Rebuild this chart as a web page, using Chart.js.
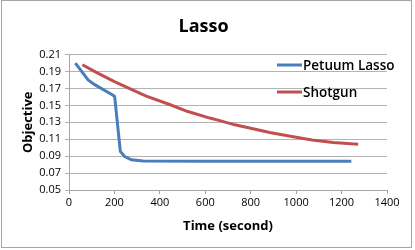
<!DOCTYPE html>
<html>
<head>
<meta charset="utf-8">
<script src="https://cdn.jsdelivr.net/npm/chart.js@4/dist/chart.umd.min.js"></script>
<style>
  html, body { margin: 0; padding: 0; background: #fff; }
  #wrap { width: 415px; height: 250px; position: relative; }
</style>
</head>
<body>
<div id="wrap"><canvas id="chart" width="415" height="250"></canvas></div>
<script>
// values
const petuumTime = [28, 84, 113, 194, 201, 226, 245, 275, 326, 600, 900, 1243]
const petuumObj  = [0.200, 0.180, 0.1745, 0.162, 0.1605, 0.0955, 0.0895, 0.0857, 0.0842, 0.0841, 0.0841, 0.0841]
const shotgunTime = [59, 120, 200, 340, 443, 520, 620, 664, 730, 800, 884, 987, 1070, 1163, 1273]
const shotgunObj  = [0.198, 0.189, 0.178, 0.161, 0.151, 0.143, 0.135, 0.132, 0.127, 0.123, 0.118, 0.113, 0.109, 0.106, 0.104]
const seriesNames = ['Petuum Lasso', 'Shotgun']
const seriesColors = ['#4A7EBB', '#C0504D']

const FONT = '"Open Sans", "Liberation Sans", sans-serif'
const toPts = (xs, ys) => xs.map((x, i) => ({ x, y: ys[i] }))

// outer frame + legend drawn inside the plot area
const frameLegend = {
  id: 'frameLegend',
  beforeDraw(chart) {
    const c = chart.ctx
    c.save()
    c.strokeStyle = '#a6a6a6'; c.lineWidth = 1
    c.strokeRect(1.5, 0.5, 410, 247)
    c.restore()
  },
  afterDraw(chart) {
    const c = chart.ctx
    const rows = [65, 92]
    c.save()
    c.font = '600 13.5px ' + FONT
    c.textBaseline = 'middle'
    seriesNames.forEach((name, i) => {
      c.strokeStyle = seriesColors[i]; c.lineWidth = 3
      c.beginPath(); c.moveTo(277, rows[i]); c.lineTo(302, rows[i]); c.stroke()
      c.fillStyle = '#000'
      c.fillText(name, 303, rows[i] + 1)
    })
    c.restore()
  }
}

new Chart(document.getElementById('chart'), {
  type: 'line',
  data: {
    datasets: [
      { label: seriesNames[0], data: toPts(petuumTime, petuumObj), borderColor: seriesColors[0], borderWidth: 3, pointRadius: 0, tension: 0 },
      { label: seriesNames[1], data: toPts(shotgunTime, shotgunObj), borderColor: seriesColors[1], borderWidth: 3, pointRadius: 0, tension: 0 }
    ]
  },
  options: {
    responsive: false, animation: false,
    layout: { padding: { left: 20, right: 28, top: 0, bottom: 16 } },
    plugins: {
      legend: { display: false },
      tooltip: { enabled: false },
      title: { display: true, text: 'Lasso', color: '#000', font: { family: FONT, size: 18, weight: 'bold' }, padding: { top: 16, bottom: 17 } }
    },
    scales: {
      x: {
        type: 'linear', min: 0, max: 1400,
        ticks: { stepSize: 200, color: '#000', font: { family: FONT, size: 11 }, padding: 2, maxRotation: 0, callback: v => String(v) },
        grid: { display: true, drawOnChartArea: false, drawTicks: true, tickLength: 4, color: '#a6a6a6' },
        border: { color: '#a6a6a6' },
        title: { display: true, text: 'Time (second)', color: '#000', font: { family: FONT, size: 13, weight: 'bold' }, padding: { top: 3, bottom: 0 } },
        afterFit: s => { s.height = 44 }
      },
      y: {
        min: 0.05, max: 0.21,
        ticks: { stepSize: 0.02, color: '#000', font: { family: FONT, size: 11 }, padding: 4, callback: v => v.toFixed(2) },
        grid: { color: '#b3b3b3', lineWidth: 1, tickLength: 4 },
        border: { color: '#a6a6a6' },
        title: { display: true, text: 'Objective', color: '#000', font: { family: FONT, size: 13, weight: 'bold' }, padding: 0 },
        afterFit: s => { s.width = 49 }
      }
    }
  },
  plugins: [frameLegend]
})
</script>
</body>
</html>
